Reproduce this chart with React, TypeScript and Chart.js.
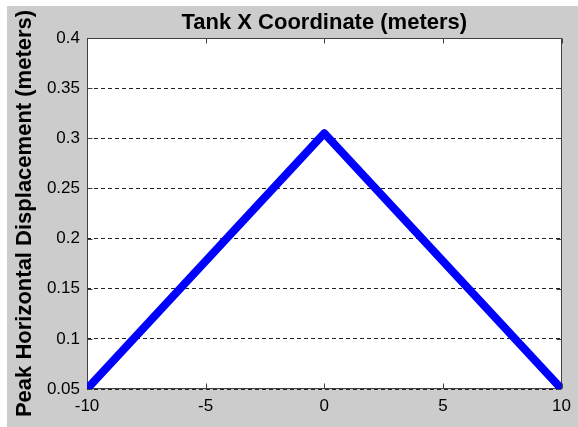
import React, { useEffect, useRef } from 'react';
import { Chart, registerables } from 'chart.js';

Chart.register(...registerables);

const xValues = [-10, 0, 10];
const displacement = [0.05, 0.305, 0.05];
const xTicks = [-10, -5, 0, 5, 10];
const yTicks = [0.05, 0.1, 0.15, 0.2, 0.25, 0.3, 0.35, 0.4];
const titleText = 'Tank X Coordinate (meters)';
const yLabel = 'Peak Horizontal Displacement (meters)';

const FONT = "'Liberation Sans', Arial, Helvetica, sans-serif";

const framePlugin = {
  id: 'matlabFrame',
  beforeDraw(chart: any) {
    const { ctx, chartArea } = chart;
    const { left, right, top, bottom } = chartArea;
    ctx.save();
    ctx.fillStyle = '#ffffff';
    ctx.fillRect(left, top, right - left, bottom - top);
    ctx.restore();
  },
  beforeDatasetsDraw(chart: any) {
    const { ctx, chartArea, scales } = chart;
    const { left, right, top, bottom } = chartArea;
    ctx.save();
    ctx.setLineDash([]);
    ctx.strokeStyle = '#404040';
    ctx.lineWidth = 1;
    const L = Math.round(left) + 0.5;
    const R = Math.round(right) - 0.5;
    const T = Math.round(top) + 0.5;
    const B = Math.round(bottom) - 0.5;
    ctx.beginPath();
    ctx.moveTo(L, T);
    ctx.lineTo(R, T);
    ctx.lineTo(R, B);
    ctx.lineTo(L, B);
    ctx.closePath();
    ctx.stroke();
    const tl = 5;
    ctx.beginPath();
    for (const v of xTicks) {
      const px = Math.round(scales.x.getPixelForValue(v)) + 0.5;
      ctx.moveTo(px, B);
      ctx.lineTo(px, B - tl);
      ctx.moveTo(px, T);
      ctx.lineTo(px, T + tl);
    }
    for (const v of yTicks) {
      const py = Math.round(scales.y.getPixelForValue(v)) + 0.5;
      ctx.moveTo(L, py);
      ctx.lineTo(L + tl, py);
      ctx.moveTo(R, py);
      ctx.lineTo(R - tl, py);
    }
    ctx.stroke();
    ctx.restore();
  },
};

export default function App() {
  const canvasRef = useRef<HTMLCanvasElement | null>(null);

  useEffect(() => {
    document.body.style.margin = '0';
    document.body.style.background = '#ffffff';
    const canvas = canvasRef.current;
    if (!canvas) return;
    const chart = new Chart(canvas, {
      type: 'line',
      data: {
        datasets: [
          {
            data: xValues.map((x, i) => ({ x, y: displacement[i] })),
            borderColor: '#0000ff',
            backgroundColor: '#0000ff',
            borderWidth: 8,
            pointRadius: 0,
            tension: 0,
            borderJoinStyle: 'round',
            borderCapStyle: 'round',
            clip: 0,
          } as any,
        ],
      },
      options: {
        responsive: false,
        animation: false,
        events: [],
        layout: { padding: { left: 0, right: 13, top: 0, bottom: 0 } },
        plugins: {
          legend: { display: false },
          tooltip: { enabled: false },
          title: {
            display: true,
            text: titleText,
            fullSize: false,
            color: '#000',
            font: { family: FONT, size: 22, weight: 'bold' },
            padding: { top: 4, bottom: 1.6 },
          },
        },
        scales: {
          x: {
            type: 'linear',
            min: -10,
            max: 10,
            afterBuildTicks: (s: any) => {
              s.ticks = xTicks.map((v) => ({ value: v }));
            },
            afterFit: (s: any) => {
              s.height = 38;
            },
            ticks: {
              color: '#000',
              font: { family: FONT, size: 17 },
              padding: 7,
              maxRotation: 0,
              autoSkip: false,
              callback: (v: any) => String(v),
            },
            grid: { display: false, drawTicks: false },
            border: { display: false },
          },
          y: {
            type: 'linear',
            min: 0.05,
            max: 0.4,
            afterBuildTicks: (s: any) => {
              s.ticks = yTicks.map((v) => ({ value: v }));
            },
            afterFit: (s: any) => {
              s.width = 80;
            },
            ticks: {
              color: '#000',
              font: { family: FONT, size: 17 },
              padding: 7,
              autoSkip: false,
              callback: (v: any) => String(v),
            },
            grid: { display: true, drawTicks: false, color: '#222222', lineWidth: 1 },
            border: { display: false, dash: [4, 3] },
            title: {
              display: true,
              text: yLabel,
              color: '#000',
              font: { family: FONT, size: 22, weight: 'bold' },
              padding: { top: 5, bottom: 0 },
            },
          },
        },
      },
      plugins: [framePlugin],
    });
    return () => chart.destroy();
  }, []);

  return (
    <div style={{ paddingLeft: 7, paddingTop: 6 }}>
      <div style={{ width: 571, height: 421, background: '#cccccc' }}>
        <canvas ref={canvasRef} width={571} height={421} style={{ display: 'block' }} />
      </div>
    </div>
  );
}
